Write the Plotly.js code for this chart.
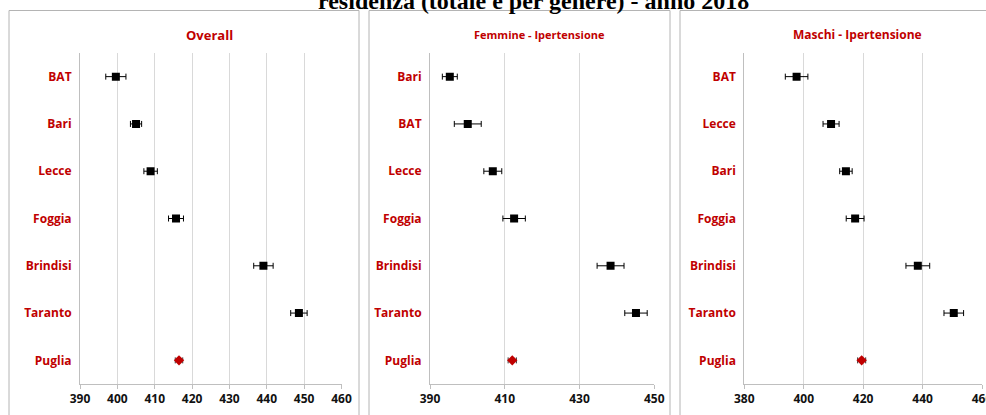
<!DOCTYPE html>
<html>
<head>
<meta charset="utf-8">
<script src="https://cdn.plot.ly/plotly-3.0.1.min.js"></script>
<style>
  html, body { margin: 0; padding: 0; background: #fff; }
  #chart { width: 986px; height: 415px; }
</style>
</head>
<body>
<div id="chart"></div>
<script>
// Tassi standardizzati per area di residenza, con intervallo di confidenza
const catsOverall  = ['BAT', 'Bari', 'Lecce', 'Foggia', 'Brindisi', 'Taranto', 'Puglia'];
const valsOverall  = [399.6, 405.0, 408.9, 415.7, 439.1, 448.6, 416.5];
const errOverall   = [2.7, 1.5, 1.8, 2.0, 2.6, 2.2, 1.0];

const catsFemmine  = ['Bari', 'BAT', 'Lecce', 'Foggia', 'Brindisi', 'Taranto', 'Puglia'];
const valsFemmine  = [395.3, 400.1, 406.8, 412.5, 438.3, 445.1, 412.0];
const errFemmine   = [2.0, 3.6, 2.4, 3.0, 3.6, 3.0, 1.1];

const catsMaschi   = ['BAT', 'Lecce', 'Bari', 'Foggia', 'Brindisi', 'Taranto', 'Puglia'];
const valsMaschi   = [397.6, 409.2, 414.2, 417.3, 438.4, 450.5, 419.5];
const errMaschi    = [3.8, 2.7, 2.1, 3.0, 4.0, 3.3, 1.35];

const panelTitles  = ['Overall', 'Femmine - Ipertensione', 'Maschi - Ipertensione'];
const mainTitle    = 'residenza (totale e per genere) - anno 2018';

const RED = '#c00000';
const W = 986, H = 415;
const px = v => v / W;
const py = v => 1 - v / H;

const panels = [
  { cats: catsOverall, vals: valsOverall, err: errOverall, range: [390, 460], dtick: 10, tick0: 390,
    dom: [px(80), px(341.5)], box: [9, 359], titleX: 209, titleSize: 13 },
  { cats: catsFemmine, vals: valsFemmine, err: errFemmine, range: [390, 450], dtick: 20, tick0: 390,
    dom: [px(430), px(654.3)], box: [369, 670], titleX: 539, titleSize: 11 },
  { cats: catsMaschi, vals: valsMaschi, err: errMaschi, range: [380, 460], dtick: 20, tick0: 380,
    dom: [px(744.3), px(982)], box: [680, 1100], titleX: 857.5, titleSize: 12 }
];

const data = [];
const layout = {
  width: W, height: H,
  margin: { l: 0, r: 0, t: 0, b: 0 },
  paper_bgcolor: '#fff', plot_bgcolor: '#fff',
  showlegend: false,
  shapes: [], annotations: []
};

panels.forEach((p, i) => {
  const n = i === 0 ? '' : String(i + 1);
  const xa = 'x' + n, ya = 'y' + n;
  const last = p.cats.length - 1;

  // province: quadrato nero
  data.push({
    type: 'scatter', mode: 'markers', xaxis: xa, yaxis: ya,
    x: p.vals.slice(0, last), y: p.cats.slice(0, last),
    marker: { symbol: 'square', size: 8, color: '#000' },
    error_x: { type: 'data', array: p.err.slice(0, last), color: '#000', thickness: 1, width: 3 },
    hoverinfo: 'x+y'
  });
  // regione: rombo rosso
  data.push({
    type: 'scatter', mode: 'markers', xaxis: xa, yaxis: ya,
    x: [p.vals[last]], y: [p.cats[last]],
    marker: { symbol: 'diamond', size: 8, color: RED },
    error_x: { type: 'data', array: [p.err[last]], color: '#333', thickness: 1, width: 3 },
    hoverinfo: 'x+y'
  });

  layout['xaxis' + n] = {
    domain: p.dom, anchor: ya, range: p.range, dtick: p.dtick, tick0: p.tick0,
    showgrid: true, gridcolor: '#d9d9d9', gridwidth: 1, zeroline: false,
    showline: true, linecolor: '#bfbfbf', linewidth: 1,
    ticks: 'outside', ticklen: 4, tickcolor: '#bfbfbf',
    ticklabeloverflow: 'allow',
    tickfont: { family: 'Open Sans', size: 12, color: '#111', weight: 700 },
    fixedrange: true
  };
  layout['yaxis' + n] = {
    domain: [py(384), py(53)], anchor: xa, type: 'category',
    categoryorder: 'array', categoryarray: p.cats, range: [6.5, -0.5],
    showgrid: false, zeroline: false,
    showline: true, linecolor: '#bfbfbf', linewidth: 1,
    ticks: 'outside', ticklen: 5, tickcolor: 'rgba(0,0,0,0)',
    tickfont: { family: 'Open Sans', size: 12, color: RED, weight: 700 },
    fixedrange: true
  };

  layout.shapes.push({
    type: 'rect', xref: 'paper', yref: 'paper',
    x0: px(p.box[0]), x1: px(p.box[1]), y0: -0.1, y1: py(10.5),
    line: { color: '#b4b4b4', width: 1 }, fillcolor: 'rgba(0,0,0,0)', layer: 'below'
  });
  layout.annotations.push({
    xref: 'paper', yref: 'paper', x: px(p.titleX), y: py(35),
    xanchor: 'center', yanchor: 'middle', showarrow: false,
    text: panelTitles[i],
    font: { family: 'Open Sans', size: p.titleSize, color: RED, weight: 700 }
  });
});

layout.annotations.push({
  xref: 'paper', yref: 'paper', x: px(533), y: py(16),
  xanchor: 'center', yanchor: 'bottom', showarrow: false,
  text: mainTitle,
  font: { family: 'Liberation Serif', size: 24, color: '#000', weight: 700 }
});

Plotly.newPlot('chart', data, layout, { displayModeBar: false, staticPlot: true });
</script>
</body>
</html>
